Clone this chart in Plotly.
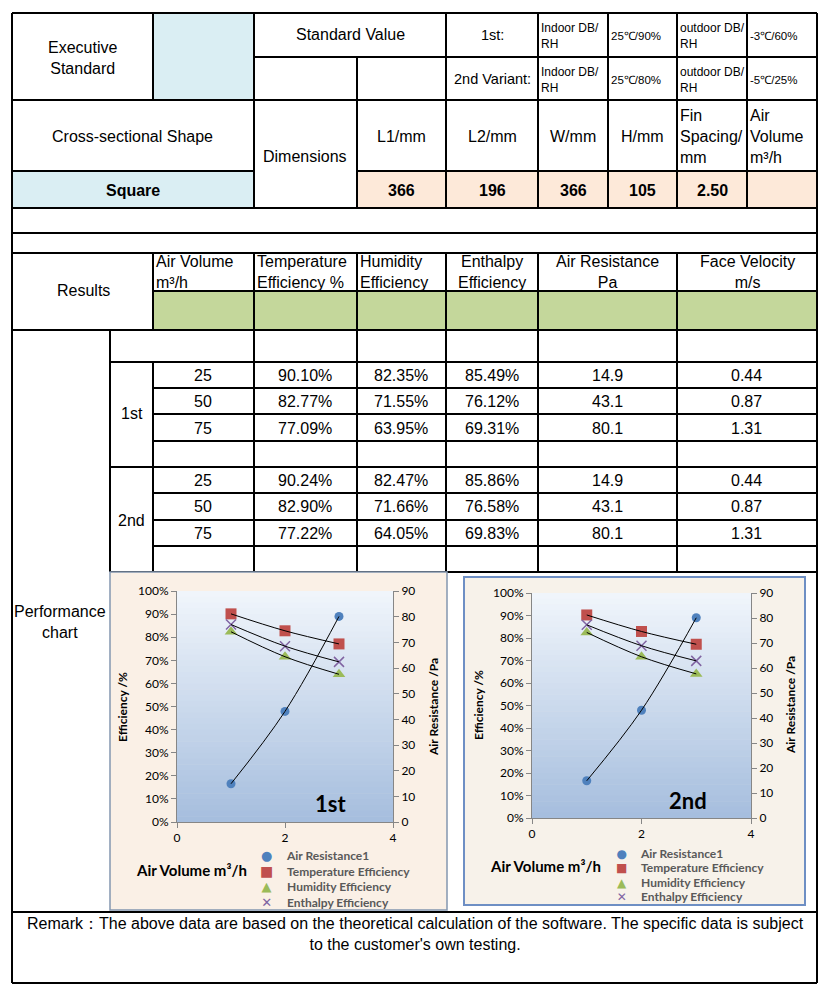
import plotly.graph_objects as go

# Page size (pixels); the page body adds an 8px margin, so positions below are page pixels
W, H = 838, 999
OFF = 8

# ---- data ----
air_volume = [25, 50, 75]
chart_x = [1, 2, 3]          # the performance charts plot the three points at 1, 2, 3

temp_eff_1st = [90.10, 82.77, 77.09]
hum_eff_1st = [82.35, 71.55, 63.95]
enth_eff_1st = [85.49, 76.12, 69.31]

temp_eff_2nd = [90.24, 82.90, 77.22]
hum_eff_2nd = [82.47, 71.66, 64.05]
enth_eff_2nd = [85.86, 76.58, 69.83]

air_resistance = [14.9, 43.1, 80.1]
face_velocity = [0.44, 0.87, 1.31]

series_names = ["Air Resistance1", "Temperature Efficiency", "Humidity Efficiency", "Enthalpy Efficiency"]

dim_labels = ["L1/mm", "L2/mm", "W/mm", "H/mm", "Fin<br>Spacing/<br>mm", "Air<br>Volume<br>m³/h"]
dim_values = ["366", "196", "366", "105", "2.50", ""]

cond_1st = ["Indoor DB/<br>RH", "25℃/90%", "outdoor DB/<br>RH", "-3℃/60%"]
cond_2nd = ["Indoor DB/<br>RH", "25℃/80%", "outdoor DB/<br>RH", "-5℃/25%"]

result_headers = ["Air Volume<br>m³/h", "Temperature<br>Efficiency %", "Humidity<br>Efficiency",
                  "Enthalpy<br>Efficiency", "Air Resistance<br>Pa", "Face Velocity<br>m/s"]

# ---- styling ----
tableFont = "Liberation Sans, Arial, sans-serif"
chartFont = "Lato, sans-serif"
fs = 16
blueCell = "#DAEEF3"
peachCell = "#FDE9D9"
greenCell = "#C4D79B"
axisGray = "#868686"
seriesColors = ["#4F81BD", "#C0504D", "#9BBB59", "#8064A2"]
legendGlyphs = ["●", "■", "▲", "✕"]


def px(x):
    return (x - OFF) / W


def py(y):
    return 1 - (y - OFF) / H


shapes = []
annotations = []


def rect(x0, y0, x1, y1, fill, lc=None, lw=0):
    shapes.append(dict(type="rect", xref="paper", yref="paper", layer="below",
                       x0=px(x0), x1=px(x1), y0=py(y1), y1=py(y0),
                       fillcolor=fill, line=dict(width=lw, color=lc or fill)))


def hline(y, x0, x1, lw=2):
    shapes.append(dict(type="line", xref="paper", yref="paper", layer="below",
                       x0=px(x0), x1=px(x1), y0=py(y), y1=py(y),
                       line=dict(color="black", width=lw)))


def vline(x, y0, y1, lw=2):
    shapes.append(dict(type="line", xref="paper", yref="paper", layer="below",
                       x0=px(x), x1=px(x), y0=py(y0), y1=py(y1),
                       line=dict(color="black", width=lw)))


def txt(x, y, s, size=fs, bold=False, xanchor="center", align="center",
        family=tableFont, color="black", angle=0):
    annotations.append(dict(x=px(x), y=py(y), xref="paper", yref="paper", text=s,
                            showarrow=False, xanchor=xanchor, yanchor="middle", align=align,
                            textangle=angle,
                            font=dict(size=size, family=family, color=color,
                                      weight="bold" if bold else "normal")))


# ---- cell fills ----
rect(153, 13, 254, 100, blueCell)
rect(12, 171, 254, 208, blueCell)
rect(357, 171, 817, 208, peachCell)
rect(153, 291, 817, 330, greenCell)

# ---- table grid ----
for y, x0, x1 in [(13, 12, 817), (57, 254, 817), (100, 12, 817), (171, 12, 254), (171, 357, 817),
                  (208, 12, 817), (233, 12, 817), (253, 12, 817), (291, 153, 817), (330, 12, 817),
                  (362, 110, 817), (388, 153, 817), (414, 153, 817), (441, 153, 817),
                  (467, 110, 817), (493, 153, 817), (520, 153, 817), (546, 153, 817),
                  (572, 110, 817), (912, 12, 817), (983, 12, 817)]:
    hline(y, x0, x1)

for x, y0, y1 in [(12, 13, 983), (817, 13, 983), (153, 13, 100), (153, 253, 330), (153, 362, 572),
                  (254, 13, 208), (254, 253, 572), (357, 57, 208), (357, 253, 572),
                  (446, 13, 208), (446, 253, 572), (538, 13, 208), (538, 253, 572),
                  (608, 13, 208), (677, 13, 208), (677, 253, 572), (747, 13, 208),
                  (110, 330, 572)]:
    vline(x, y0, y1)

# ---- header texts ----
txt(82, 58, "Executive<br>Standard")
txt(350, 35, "Standard Value")
txt(492, 35, "1st:", size=14.5)
txt(492, 79, "2nd Variant:", size=14.5)
condX = [539, 609, 678, 748]
condSize = [12, 11.5, 12, 11.5]
for cx, sz, a, b in zip(condX, condSize, cond_1st, cond_2nd):
    txt(cx, 36, a, size=sz, xanchor="left", align="left")
    txt(cx, 80, b, size=sz, xanchor="left", align="left")

txt(133, 137, "Cross-sectional Shape")
txt(305, 156, "Dimensions")
dimCenters = [401, 492, 573, 642]
for cx, lab in zip(dimCenters, dim_labels[:4]):
    txt(cx, 137, lab)
txt(678, 137, dim_labels[4], xanchor="left", align="left")
txt(748, 137, dim_labels[5], xanchor="left", align="left")

txt(133, 190, "Square", bold=True)
for cx, v in zip([401, 492, 573, 642, 712], dim_values[:5]):
    txt(cx, 190, v, bold=True)

# ---- results header ----
txt(83, 291, "Results")
txt(154, 272, result_headers[0], xanchor="left", align="left")
txt(255, 272, result_headers[1], xanchor="left", align="left")
txt(358, 272, result_headers[2], xanchor="left", align="left")
txt(492, 272, result_headers[3])
txt(607, 272, result_headers[4])
txt(747, 272, result_headers[5])

# ---- results rows ----
colCenters = [203, 305, 401, 492, 607, 746]
groups = [("1st", 414, [375, 401, 428], temp_eff_1st, hum_eff_1st, enth_eff_1st),
          ("2nd", 520, [480, 507, 533], temp_eff_2nd, hum_eff_2nd, enth_eff_2nd)]
for label, ly, rowY, te, he, ee in groups:
    txt(132, ly, label)
    for i, ry in enumerate(rowY):
        cells = [str(air_volume[i]), f"{te[i]:.2f}%", f"{he[i]:.2f}%", f"{ee[i]:.2f}%",
                 f"{air_resistance[i]:.1f}", f"{face_velocity[i]:.2f}"]
        for cx, c in zip(colCenters, cells):
            txt(cx, ry, c)

txt(60, 622, "Performance<br>chart")

txt(415, 934, "Remark：The above data are based on the theoretical calculation of the software. "
              "The specific data is subject<br>to the customer's own testing.", size=16)

# ---- charts ----
charts = [
    dict(box=(110, 572, 447, 910), plot=(177, 591, 393, 822), bg="#FAF0E6", border="#8497B0", bw=1.5,
         tag="1st", tagpos=(330, 803), xlab=(191, 870), effl=(122, 707), resl=(433, 707),
         legX=(266, 284), legY=879, legBase=12, glyphSz=[13, 14, 13, 13],
         te=temp_eff_1st, he=hum_eff_1st, ee=enth_eff_1st),
    dict(box=(464, 577, 805, 905), plot=(532, 593, 751, 818), bg="#F7F2EA", border="#6E8FC4", bw=2,
         tag="2nd", tagpos=(688, 800), xlab=(545, 866), effl=(478, 705), resl=(790, 705),
         legX=(621, 638), legY=875, legBase=11, glyphSz=[12, 12, 12, 12],
         te=temp_eff_2nd, he=hum_eff_2nd, ee=enth_eff_2nd),
]

fig = go.Figure()
layout_axes = {}
top_col = (240, 245, 251)
bot_col = (166, 190, 222)
nBands = 40

for k, ch in enumerate(charts):
    bx0, by0, bx1, by1 = ch["box"]
    rect(bx0, by0, bx1, by1, ch["bg"], lc=ch["border"], lw=ch["bw"])
    x0, y0, x1, y1 = ch["plot"]
    # gradient plot area
    for b in range(nBands):
        t = b / (nBands - 1)
        col = tuple(round(top_col[j] + (bot_col[j] - top_col[j]) * t) for j in range(3))
        ya = y0 + (y1 - y0) * b / nBands
        yb = y0 + (y1 - y0) * (b + 1) / nBands + 0.6
        rect(x0, ya, x1, min(yb, y1), "rgb(%d,%d,%d)" % col)

    xa = "x" if k == 0 else "x2"
    ya_l = "y" if k == 0 else "y3"
    ya_r = "y2" if k == 0 else "y4"

    ax_common = dict(showgrid=False, zeroline=False, showline=True, linecolor=axisGray, linewidth=1,
                     ticks="outside", ticklen=5, tickcolor=axisGray, automargin=False,
                     tickfont=dict(family=chartFont, size=12, color="black"))
    layout_axes["xaxis" if k == 0 else "xaxis2"] = dict(
        domain=[px(x0), px(x1)], range=[0, 4], dtick=2, anchor=ya_l, **ax_common)
    layout_axes["yaxis" if k == 0 else "yaxis3"] = dict(
        domain=[py(y1), py(y0)], range=[0, 100], dtick=10, ticksuffix="%", anchor=xa, **ax_common)
    layout_axes["yaxis2" if k == 0 else "yaxis4"] = dict(
        overlaying=ya_l, side="right", range=[0, 90], dtick=10, anchor=xa, **ax_common)

    series = [
        (series_names[0], air_resistance, ya_r, dict(symbol="circle", size=9, color=seriesColors[0])),
        (series_names[1], ch["te"], ya_l, dict(symbol="square", size=11, color=seriesColors[1])),
        (series_names[2], ch["he"], ya_l, dict(symbol="triangle-up", size=11, color=seriesColors[2])),
        (series_names[3], ch["ee"], ya_l, dict(symbol="x-thin", size=10, color=seriesColors[3],
                                               line=dict(color=seriesColors[3], width=1.5))),
    ]
    for name, vals, yax, mk in series:
        fig.add_trace(go.Scatter(x=chart_x, y=vals, mode="markers", name=name, marker=mk,
                                 xaxis=xa, yaxis=yax, showlegend=False, cliponaxis=False))
    for name, vals, yax, mk in series:
        fig.add_trace(go.Scatter(x=chart_x, y=vals, mode="lines", line=dict(color="black", width=1, shape="spline"),
                                 xaxis=xa, yaxis=yax, showlegend=False, hoverinfo="skip"))

    txt(ch["tagpos"][0], ch["tagpos"][1], ch["tag"], size=22, bold=True, family=chartFont)
    txt(ch["xlab"][0], ch["xlab"][1], "Air Volume m³/h", size=15, bold=True, family=chartFont)
    txt(ch["effl"][0], ch["effl"][1], "Efficiency /%", size=12, bold=True, family=chartFont, angle=-90)
    txt(ch["resl"][0], ch["resl"][1], "Air Resistance /Pa", size=12, bold=True, family=chartFont, angle=-90)

    # compact legend: a symbol column and a name column, line spacing set by the base size
    glyphText = "<br>".join("<span style='color:%s;font-size:%dpx'>%s</span>" % (c, s, g)
                            for c, g, s in zip(seriesColors, legendGlyphs, ch["glyphSz"]))
    nameText = "<br>".join("<span style='font-size:12px'>%s</span>" % n for n in series_names)
    txt(ch["legX"][0], ch["legY"], glyphText, size=ch["legBase"], family="DejaVu Sans")
    txt(ch["legX"][1], ch["legY"], nameText, size=ch["legBase"], bold=True, family=chartFont,
        color="#595959", xanchor="left", align="left")

fig.update_layout(width=W, height=H, margin=dict(l=0, r=0, t=0, b=0, autoexpand=False),
                  paper_bgcolor="white", plot_bgcolor="rgba(0,0,0,0)", showlegend=False,
                  shapes=shapes, annotations=annotations, **layout_axes)

fig.write_html("out.html")
